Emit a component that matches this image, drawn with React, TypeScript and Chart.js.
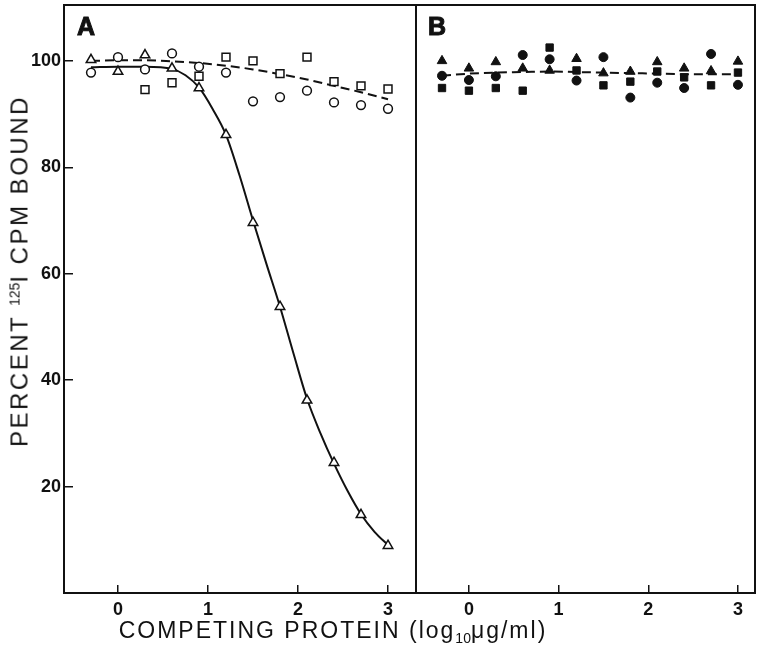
import React, { useEffect, useRef } from 'react';
import { Chart, registerables } from 'chart.js';

Chart.register(...registerables);

// ---------- data ----------
const xTickValues = [0, 1, 2, 3];
const yTickValues = [20, 40, 60, 80, 100];
const doses = [-0.3, 0, 0.3, 0.6, 0.9, 1.2, 1.5, 1.8, 2.1, 2.4, 2.7, 3.0];

// Panel A (open symbols)
const aTriangle = [100.2, 98.0, 101.1, 98.6, 94.9, 86.1, 69.6, 53.8, 36.2, 24.5, 14.7, 8.9];
const aCircle = [97.8, 100.7, 98.4, 101.4, 98.9, 97.8, 92.4, 93.2, 94.4, 92.2, 91.7, 91.0];
const aSquareDoses = [0.3, 0.6, 0.9, 1.2, 1.5, 1.8, 2.1, 2.4, 2.7, 3.0];
const aSquare = [94.6, 95.9, 97.1, 100.7, 100.0, 97.6, 100.7, 96.1, 95.3, 94.7];
const aSolidX = [-0.3, 0, 0.3, 0.6, 0.75, 0.9, 1.05, 1.2, 1.35, 1.5, 1.65, 1.8, 1.95, 2.1, 2.25, 2.4, 2.55, 2.7, 2.85, 3.0];
const aSolidY = [98.8, 98.9, 98.9, 98.5, 97.3, 95.0, 91.0, 86.1, 78.5, 70.0, 61.8, 53.8, 45.0, 36.5, 30.0, 24.3, 19.2, 14.8, 11.5, 9.0];
const aDashedY = [100.0, 100.1, 100.1, 99.9, 99.6, 99.1, 98.4, 97.5, 96.5, 95.3, 94.1, 92.8];

// Panel B (filled symbols)
const bTriangle = [100.0, 98.6, 99.8, 98.6, 98.2, 100.4, 97.7, 98.0, 99.8, 98.6, 98.1, 99.9];
const bCircle = [97.2, 96.4, 97.1, 101.1, 100.3, 96.3, 100.7, 93.1, 95.9, 94.9, 101.3, 95.5];
const bSquare = [94.9, 94.4, 94.9, 94.4, 102.5, 98.2, 95.4, 96.1, 98.0, 96.9, 95.4, 97.8];
const bDashedY = [97.2, 97.6, 97.8, 97.9, 98.0, 97.9, 97.8, 97.7, 97.6, 97.5, 97.5, 97.5];

const Y_MIN = 0;
const Y_MAX = 110.5;
const INK = '#111';
const FAMILY = '"Liberation Sans", Arial, Helvetica, sans-serif';

const pts = (xs: number[], ys: number[]) => xs.map((x, i) => ({ x, y: ys[i] }));

const framePlugin = {
  id: 'frame',
  beforeDatasetsDraw(chart: any) {
    const { ctx, chartArea: a } = chart;
    ctx.save();
    ctx.strokeStyle = INK;
    ctx.lineWidth = 2;
    ctx.strokeRect(a.left, a.top, a.right - a.left, a.bottom - a.top);
    ctx.restore();
  },
};

const tickFont = { family: FAMILY, size: 18, weight: 'bold' as const };

const zeroPad = (s: any) => {
  s.paddingTop = 0;
  s.paddingBottom = 0;
  s.paddingLeft = 0;
  s.paddingRight = 0;
};

function xScale(min: number, max: number) {
  return {
    type: 'linear' as const,
    min,
    max,
    afterBuildTicks: (s: any) => {
      s.ticks = xTickValues.map((v) => ({ value: v }));
    },
    afterFit: (s: any) => {
      s.height = 54;
      zeroPad(s);
    },
    grid: { drawOnChartArea: false, drawTicks: true, tickLength: -8, color: INK, lineWidth: 1.5 },
    border: { display: false },
    ticks: { padding: 14, color: INK, font: tickFont, maxRotation: 0, callback: (v: any) => String(v) },
  };
}

function openMarker(label: string, data: any[], style: string, radius: number) {
  return {
    label,
    data,
    showLine: false,
    pointStyle: style,
    pointRadius: radius,
    pointBackgroundColor: '#fff',
    pointBorderColor: INK,
    pointBorderWidth: 1.5,
    order: 1,
  };
}

function filledMarker(label: string, data: any[], style: string, radius: number) {
  return {
    label,
    data,
    showLine: false,
    pointStyle: style,
    pointRadius: radius,
    pointBackgroundColor: INK,
    pointBorderColor: INK,
    pointBorderWidth: 1,
    order: 1,
  };
}

function lineSet(label: string, data: any[], dash: number[]) {
  return {
    label,
    data,
    showLine: true,
    pointRadius: 0,
    borderColor: INK,
    borderWidth: 2,
    borderDash: dash,
    cubicInterpolationMode: 'monotone' as const,
    fill: false,
    order: 5,
  };
}

export default function App() {
  const refA = useRef<HTMLCanvasElement>(null);
  const refB = useRef<HTMLCanvasElement>(null);

  useEffect(() => {
    Chart.defaults.font.family = FAMILY;
    const common = {
      responsive: false,
      animation: false as const,
      devicePixelRatio: 1,
      events: [],
      plugins: { legend: { display: false }, tooltip: { enabled: false } },
    };

    const chartA = new Chart(refA.current!, {
      type: 'scatter',
      data: {
        datasets: [
          openMarker('A triangles', pts(doses, aTriangle), 'triangle', 5.5),
          openMarker('A circles', pts(doses, aCircle), 'circle', 4.4),
          openMarker('A squares', pts(aSquareDoses, aSquare), 'rect', 5.6),
          lineSet('A fit', pts(aSolidX, aSolidY), []),
          lineSet('A dashed', pts(doses, aDashedY), [9, 5]),
        ] as any,
      },
      options: {
        ...common,
        layout: { autoPadding: false, padding: { top: 5, right: 4, left: 0, bottom: 0 } },
        scales: {
          x: xScale(-0.6, 3.311),
          y: {
            type: 'linear',
            min: Y_MIN,
            max: Y_MAX,
            afterBuildTicks: (s: any) => {
              s.ticks = yTickValues.map((v) => ({ value: v }));
            },
            afterFit: (s: any) => {
              s.width = 64;
              zeroPad(s);
            },
            grid: { drawOnChartArea: false, drawTicks: true, tickLength: -9, color: INK, lineWidth: 1.5 },
            border: { display: false },
            ticks: { padding: 12, color: INK, font: tickFont, callback: (v: any) => String(v) },
          },
        },
      } as any,
      plugins: [framePlugin],
    });

    const chartB = new Chart(refB.current!, {
      type: 'scatter',
      data: {
        datasets: [
          filledMarker('B triangles', pts(doses, bTriangle), 'triangle', 5.5),
          filledMarker('B circles', pts(doses, bCircle), 'circle', 4.5),
          filledMarker('B squares', pts(doses, bSquare), 'rect', 5.2),
          lineSet('B dashed', pts(doses, bDashedY), [9, 5]),
        ] as any,
      },
      options: {
        ...common,
        layout: { autoPadding: false, padding: { top: 5, right: 2, left: 1, bottom: 0 } },
        scales: {
          x: xScale(-0.59, 3.19),
          y: { type: 'linear', display: false, min: Y_MIN, max: Y_MAX },
        },
      } as any,
      plugins: [framePlugin],
    });

    return () => {
      chartA.destroy();
      chartB.destroy();
    };
  }, []);

  const panelLabel: React.CSSProperties = {
    position: 'absolute',
    fontFamily: FAMILY,
    fontWeight: 'bold',
    fontSize: 25,
    lineHeight: '24px',
    color: INK,
    WebkitTextStroke: '1px #111',
  };

  return (
    <div
      style={{
        position: 'absolute',
        left: 0,
        top: 0,
        width: 757,
        height: 647,
        background: '#fff',
        overflow: 'hidden',
        fontFamily: FAMILY,
        color: INK,
      }}
    >
      <canvas ref={refA} width={420} height={647} style={{ position: 'absolute', left: 0, top: 0, width: 420, height: 647 }} />
      <canvas ref={refB} width={342} height={647} style={{ position: 'absolute', left: 415, top: 0, width: 342, height: 647 }} />
      <div style={{ ...panelLabel, left: 77, top: 14 }}>A</div>
      <div style={{ ...panelLabel, left: 428, top: 14 }}>B</div>
      <div
        style={{
          position: 'absolute',
          left: 17,
          top: 271,
          transform: 'translate(-50%, -50%) rotate(-90deg)',
          whiteSpace: 'nowrap',
          fontSize: 24,
          letterSpacing: '2.5px',
          lineHeight: '24px',
        }}
      >
        PERCENT <span style={{ fontSize: 14, letterSpacing: '0px', verticalAlign: '8px' }}>125</span>I CPM BOUND
      </div>
      <div
        style={{
          position: 'absolute',
          left: 333,
          top: 634,
          transform: 'translate(-50%, -50%)',
          whiteSpace: 'nowrap',
          fontSize: 23,
          letterSpacing: '2px',
          lineHeight: '22px',
        }}
      >
        COMPETING PROTEIN (log<span style={{ fontSize: 14, letterSpacing: '0px', verticalAlign: '-5px' }}>10</span>μg/ml)
      </div>
    </div>
  );
}
